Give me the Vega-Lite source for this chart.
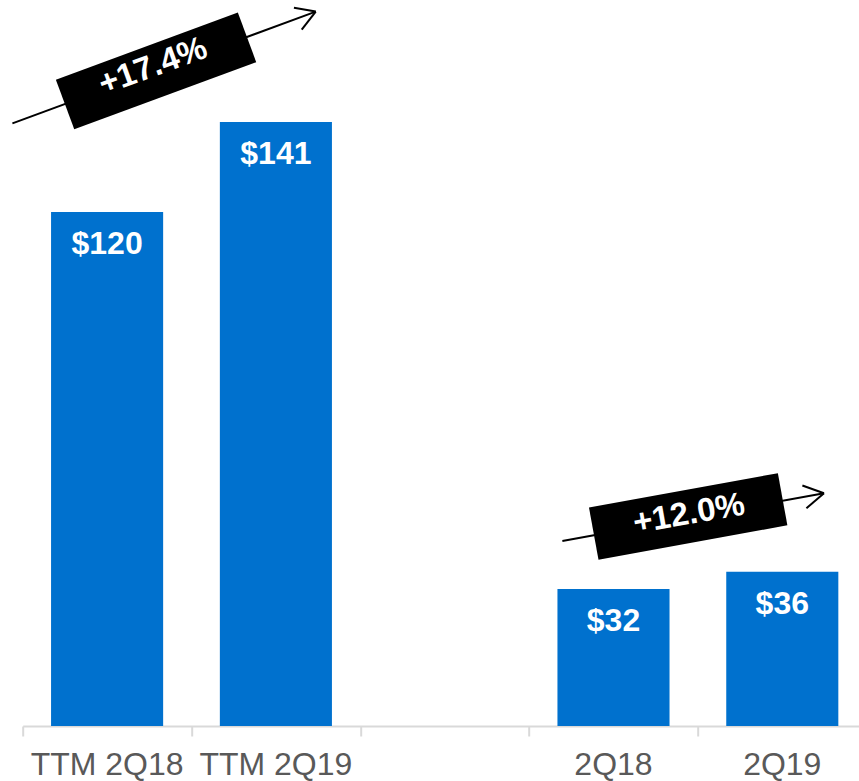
{
  "$schema": "https://vega.github.io/schema/vega-lite/v6.json",
  "width": 836,
  "height": 726,
  "autosize": {"type": "none"},
  "padding": {"left": 22.7, "top": 0, "right": 0, "bottom": 55},
  "config": {"view": {"stroke": null}, "font": "Liberation Sans"},
  "datasets": {
    "bars": [
      {"period": "TTM 2Q18", "value": 120},
      {"period": "TTM 2Q19", "value": 141},
      {"period": "2Q18", "value": 32},
      {"period": "2Q19", "value": 36}
    ],
    "notes": [
      {"ann": "ttm", "part": "line", "u": -0.061, "v": 140.7, "u2": 1.736, "v2": 166.8},
      {"ann": "ttm", "part": "line", "u": 1.736, "v": 166.8, "u2": 1.607, "v2": 167.7},
      {"ann": "ttm", "part": "line", "u": 1.736, "v": 166.8, "u2": 1.653, "v2": 162.6},
      {"ann": "q", "part": "line", "u": 3.197, "v": 43.19, "u2": 4.747, "v2": 54.33},
      {"ann": "q", "part": "line", "u": 4.747, "v": 54.33, "u2": 4.619, "v2": 56.15},
      {"ann": "q", "part": "line", "u": 4.747, "v": 54.33, "u2": 4.643, "v2": 50.85},
      {"ann": "ttm", "part": "box", "u": 0.251, "v": 145.1, "u2": 1.329, "v2": 160.8},
      {"ann": "q", "part": "box", "u": 3.383, "v": 44.9, "u2": 4.502, "v2": 52.93},
      {"ann": "ttm", "part": "label", "u": 0.772, "v": 154.0, "text": "+17.4%"},
      {"ann": "q", "part": "label", "u": 3.947, "v": 49.5, "text": "+12.0%"}
    ]
  },
  "layer": [
    {
      "data": {"name": "bars"},
      "encoding": {
        "x": {
          "field": "period",
          "type": "nominal",
          "scale": {
            "domain": ["TTM 2Q18", "TTM 2Q19", " ", "2Q18", "2Q19"],
            "range": [0, 844],
            "paddingInner": 0.336,
            "paddingOuter": 0.168
          },
          "axis": {
            "orient": "bottom",
            "title": null,
            "domain": false,
            "ticks": false,
            "labelFontSize": 32,
            "labelColor": "#595959",
            "labelPadding": 24,
            "labelAngle": 0,
            "labelFont": "Liberation Sans"
          }
        },
        "y": {
          "field": "value",
          "type": "quantitative",
          "scale": {"domain": [0, 169.5], "nice": false},
          "axis": null
        }
      },
      "layer": [
        {"mark": {"type": "bar", "color": "#0071CE"}},
        {
          "mark": {"type": "text", "color": "white", "fontWeight": "bold", "fontSize": 32, "baseline": "alphabetic", "align": "center", "dy": 42, "font": "Liberation Sans"},
          "encoding": {"text": {"field": "value", "type": "quantitative", "format": "$.0f"}}
        }
      ]
    },
    {
      "data": {"name": "notes"},
      "encoding": {
        "x": {
          "field": "u",
          "type": "quantitative",
          "scale": {"domain": [0, 5], "range": [0, 844], "nice": false, "zero": false},
          "axis": {
            "orient": "bottom",
            "title": null,
            "values": [0, 1, 2, 3, 4, 5],
            "labels": false,
            "grid": false,
            "domainColor": "#d9d9d9",
            "domainWidth": 2,
            "tickColor": "#d9d9d9",
            "tickWidth": 2,
            "tickSize": 10
          }
        },
        "y": {
          "field": "v",
          "type": "quantitative",
          "scale": {"domain": [0, 169.5], "nice": false},
          "axis": null
        }
      },
      "layer": [
        {
          "transform": [{"filter": "datum.part === 'line'"}],
          "mark": {"type": "rule", "color": "black", "strokeWidth": 2},
          "encoding": {"x2": {"field": "u2"}, "y2": {"field": "v2"}}
        },
        {
          "transform": [{"filter": "datum.part === 'box'"}],
          "mark": {"type": "rule", "color": "black", "strokeWidth": 53, "strokeCap": "butt"},
          "encoding": {"x2": {"field": "u2"}, "y2": {"field": "v2"}}
        },
        {
          "transform": [{"filter": "datum.part === 'label' && datum.ann === 'ttm'"}],
          "mark": {"type": "text", "color": "white", "fontWeight": "bold", "fontSize": 33, "align": "center", "baseline": "middle", "angle": -20, "font": "Liberation Sans"},
          "encoding": {"text": {"field": "text"}}
        },
        {
          "transform": [{"filter": "datum.part === 'label' && datum.ann === 'q'"}],
          "mark": {"type": "text", "color": "white", "fontWeight": "bold", "fontSize": 33, "align": "center", "baseline": "middle", "angle": -10, "font": "Liberation Sans"},
          "encoding": {"text": {"field": "text"}}
        }
      ]
    }
  ],
  "resolve": {"scale": {"x": "independent"}}
}
